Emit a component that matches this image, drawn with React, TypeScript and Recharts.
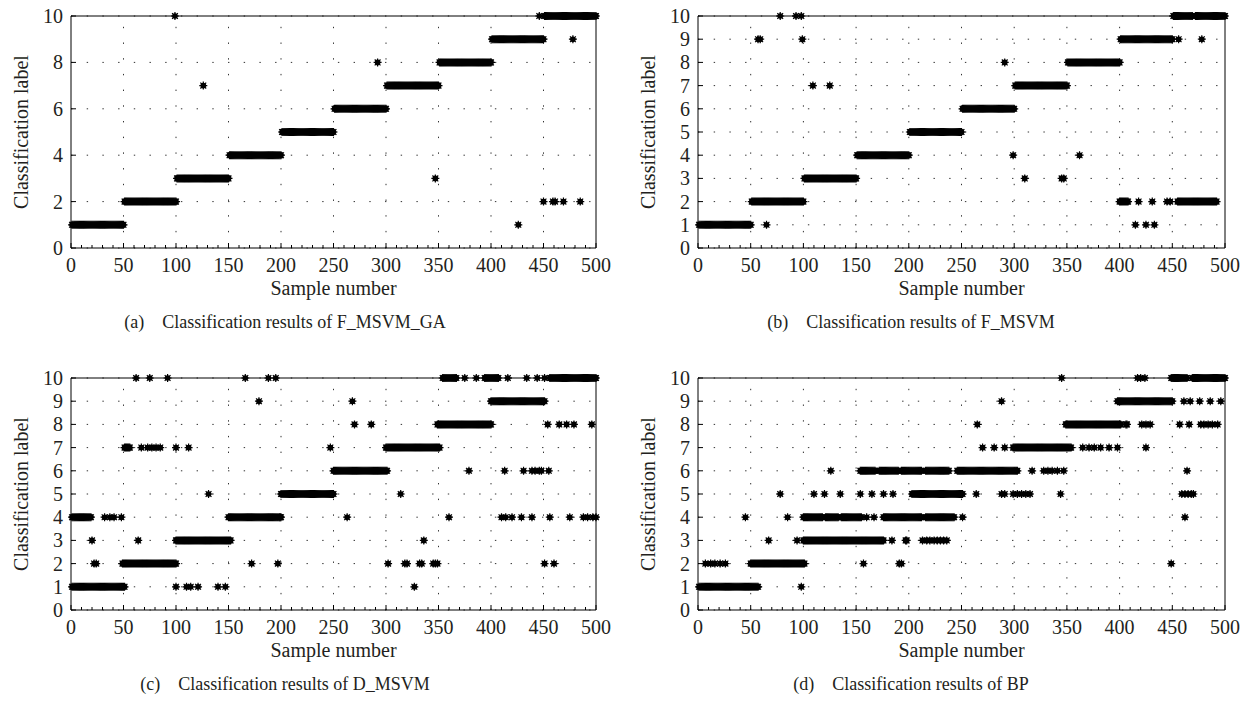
import React from 'react';
import { ScatterChart, Scatter, XAxis, YAxis, CartesianGrid, ReferenceLine } from 'recharts';

// runs are [first sample, last sample, predicted label]; extra points are [sample, label]
type Run = [number, number, number];
type Pt = [number, number];

const xTicks = [0, 50, 100, 150, 200, 250, 300, 350, 400, 450, 500];
const xMinorTicks = [
  0, 10, 20, 30, 40, 50, 60, 70, 80, 90, 100, 110, 120, 130, 140, 150, 160, 170, 180, 190, 200,
  210, 220, 230, 240, 250, 260, 270, 280, 290, 300, 310, 320, 330, 340, 350, 360, 370, 380, 390, 400,
  410, 420, 430, 440, 450, 460, 470, 480, 490, 500,
];
const xGrid = [50, 100, 150, 200, 250, 300, 350, 400, 450];
const yTicksEven = [0, 2, 4, 6, 8, 10];
const yTicksAll = [0, 1, 2, 3, 4, 5, 6, 7, 8, 9, 10];

// (a) F_MSVM_GA
const runsA: Run[] = [
  [1, 50, 1], [51, 100, 2], [101, 150, 3], [151, 200, 4], [201, 250, 5],
  [251, 300, 6], [301, 350, 7], [351, 400, 8], [401, 450, 9], [451, 500, 10],
];
const extraA: Pt[] = [
  [99, 10], [126, 7], [292, 8], [347, 3], [426, 1], [446, 10],
  [450, 2], [459, 2], [461, 2], [469, 2], [478, 9], [485, 2],
];

// (b) F_MSVM
const runsB: Run[] = [
  [1, 50, 1], [51, 100, 2], [101, 150, 3], [151, 200, 4], [201, 250, 5],
  [251, 300, 6], [301, 350, 7], [351, 400, 8], [401, 450, 9], [451, 469, 10], [472, 500, 10],
  [400, 408, 2], [455, 492, 2],
];
const extraB: Pt[] = [
  [57, 9], [59, 9], [65, 1], [78, 10], [93, 10], [98, 10], [99, 9], [109, 7], [125, 7],
  [291, 8], [299, 4], [310, 3], [345, 3], [347, 3], [362, 4],
  [418, 2], [431, 2], [445, 2], [448, 2], [415, 1], [425, 1], [433, 1], [456, 9], [478, 9],
];

// (c) D_MSVM
const runsC: Run[] = [
  [1, 51, 1], [1, 19, 4], [49, 100, 2], [51, 56, 7], [100, 152, 3], [150, 200, 4],
  [200, 250, 5], [250, 301, 6], [300, 351, 7], [349, 400, 8], [400, 451, 9],
  [354, 367, 10], [394, 407, 10], [456, 500, 10],
];
const extraC: Pt[] = [
  [62, 10], [75, 10], [92, 10], [166, 10], [188, 10], [195, 10], [375, 10], [386, 10], [416, 10], [434, 10], [444, 10], [451, 10],
  [179, 9], [268, 9],
  [270, 8], [286, 8], [454, 8], [465, 8], [472, 8], [479, 8], [496, 8],
  [67, 7], [73, 7], [77, 7], [81, 7], [85, 7], [100, 7], [112, 7], [247, 7],
  [379, 6], [413, 6], [431, 6], [439, 6], [442, 6], [446, 6], [448, 6], [455, 6],
  [131, 5], [314, 5],
  [32, 4], [37, 4], [41, 4], [48, 4], [199, 4], [263, 4], [360, 4], [410, 4], [414, 4], [420, 4],
  [429, 4], [439, 4], [456, 4], [475, 4], [488, 4], [492, 4], [497, 4], [500, 4],
  [20, 3], [64, 3], [336, 3],
  [22, 2], [24, 2], [172, 2], [197, 2], [302, 2], [318, 2], [320, 2], [332, 2], [334, 2],
  [345, 2], [347, 2], [349, 2], [451, 2], [460, 2],
  [100, 1], [110, 1], [114, 1], [121, 1], [140, 1], [147, 1], [327, 1],
];

// (d) BP
const runsD: Run[] = [
  [1, 57, 1], [50, 101, 2], [100, 176, 3],
  [100, 118, 4], [121, 133, 4], [136, 155, 4], [176, 212, 4], [216, 243, 4],
  [154, 168, 6], [172, 190, 6], [193, 212, 6], [216, 238, 6], [246, 303, 6],
  [203, 251, 5], [299, 354, 7], [349, 401, 8], [398, 450, 9], [449, 464, 10], [469, 500, 10],
];
const extraD: Pt[] = [
  [345, 10], [417, 10], [420, 10], [424, 10],
  [288, 9], [461, 9], [467, 9], [476, 9], [486, 9], [496, 9],
  [265, 8], [406, 8], [407, 8], [421, 8], [425, 8], [429, 8], [457, 8], [466, 8], [477, 8], [480, 8], [484, 8], [488, 8], [493, 8],
  [270, 7], [281, 7], [291, 7], [365, 7], [371, 7], [376, 7], [382, 7], [390, 7], [398, 7], [425, 7],
  [126, 6], [317, 6], [328, 6], [332, 6], [336, 6], [341, 6], [347, 6], [464, 6],
  [78, 5], [110, 5], [120, 5], [135, 5], [154, 5], [165, 5], [176, 5], [185, 5], [264, 5], [288, 5], [291, 5],
  [299, 5], [303, 5], [307, 5], [311, 5], [315, 5], [344, 5], [459, 5], [462, 5], [465, 5], [468, 5], [470, 5],
  [45, 4], [85, 4], [160, 4], [167, 4], [251, 4], [462, 4],
  [67, 3], [94, 3], [184, 3], [197, 3], [198, 3], [213, 3], [217, 3], [220, 3], [224, 3], [227, 3], [230, 3], [233, 3], [236, 3],
  [7, 2], [12, 2], [16, 2], [21, 2], [26, 2], [157, 2], [191, 2], [193, 2], [449, 2],
  [98, 1],
];

const FONT = "'Liberation Serif', 'DejaVu Serif', serif";
const INK = '#231f20';
const DOTS = '1.4 14.3';

function toPoints(runs: Run[], extra: Pt[]) {
  const pts: { x: number; y: number }[] = [];
  runs.forEach(([a, b, label]) => {
    for (let i = a; i <= b; i++) pts.push({ x: i, y: label });
  });
  extra.forEach(([x, y]) => pts.push({ x, y }));
  return pts;
}

// asterisk marker, as in the MATLAB '*' style
const Star = (props: any) => {
  const { cx, cy } = props;
  const r = 4;
  const d = 2.9;
  return (
    <g>
      <circle cx={cx} cy={cy} r={2.8} fill="#000" />
      <path
        d={`M${cx - r},${cy}L${cx + r},${cy}M${cx},${cy - r}L${cx},${cy + r}M${cx - d},${cy - d}L${cx + d},${cy + d}M${cx - d},${cy + d}L${cx + d},${cy - d}`}
        stroke="#000"
        strokeWidth={1.2}
      />
    </g>
  );
};

const BottomTick = (props: any) => {
  const { x, y, payload } = props;
  const major = payload.value % 50 === 0;
  return (
    <g>
      <line x1={x} y1={y} x2={x} y2={y - (major ? 5 : 3)} stroke="#000" />
      {major && (
        <text x={x} y={y + 24} textAnchor="middle" fontFamily={FONT} fontSize={20} fill={INK}>
          {payload.value}
        </text>
      )}
    </g>
  );
};

const TopTick = (props: any) => {
  const { x, y, payload } = props;
  const major = payload.value % 50 === 0;
  return <line x1={x} y1={y} x2={x} y2={y + (major ? 5 : 3)} stroke="#000" />;
};

const LeftTick = (props: any) => {
  const { x, y, payload } = props;
  return (
    <g>
      <line x1={x} y1={y} x2={x + 5} y2={y} stroke="#000" />
      <text x={x - 8} y={y} textAnchor="end" dominantBaseline="central" fontFamily={FONT} fontSize={20} fill={INK}>
        {payload.value}
      </text>
    </g>
  );
};

const RightTick = (props: any) => {
  const { x, y } = props;
  return <line x1={x} y1={y} x2={x - 5} y2={y} stroke="#000" />;
};

interface PanelProps {
  left: number;
  top: number;
  width: number;
  axisWidth: number;
  marginRight: number;
  yTicks: number[];
  runs: Run[];
  extra: Pt[];
  caption: string;
  captionX: number;
}

const Panel: React.FC<PanelProps> = ({ left, top, width, axisWidth, marginRight, yTicks, runs, extra, caption, captionX }) => {
  const data = toPoints(runs, extra);
  return (
    <div style={{ position: 'absolute', left, top, width, height: 340 }}>
      <ScatterChart width={width} height={300} margin={{ top: 15, right: marginRight, bottom: 0, left: 0 }}>
        <CartesianGrid vertical={false} stroke="#333" strokeDasharray={DOTS} />
        {xGrid.map((v) => (
          <ReferenceLine key={v} x={v} stroke="#333" strokeDasharray={DOTS} />
        ))}
        <XAxis
          type="number"
          dataKey="x"
          domain={[0, 500]}
          ticks={xMinorTicks}
          interval={0}
          tickSize={0}
          tickMargin={0}
          tickLine={false}
          axisLine={{ stroke: '#000' }}
          tick={<BottomTick />}
          height={52}
          label={{
            content: (p: any) => {
              const vb = p.viewBox;
              return (
                <text x={vb.x + vb.width / 2} y={vb.y + 47} textAnchor="middle" fontFamily={FONT} fontSize={20} fill={INK}>
                  Sample number
                </text>
              );
            },
          }}
        />
        <XAxis
          xAxisId="top"
          orientation="top"
          type="number"
          dataKey="x"
          domain={[0, 500]}
          ticks={xMinorTicks}
          interval={0}
          tickSize={0}
          tickMargin={0}
          tickLine={false}
          axisLine={{ stroke: '#000' }}
          tick={<TopTick />}
          height={1}
        />
        <YAxis
          type="number"
          dataKey="y"
          domain={[0, 10]}
          ticks={yTicks}
          interval={0}
          tickSize={0}
          tickMargin={0}
          tickLine={false}
          axisLine={{ stroke: '#000' }}
          tick={<LeftTick />}
          width={axisWidth}
          label={{
            content: (p: any) => {
              const vb = p.viewBox;
              const cx = vb.x + vb.width - 50;
              const cy = vb.y + vb.height / 2;
              return (
                <text
                  x={cx}
                  y={cy}
                  transform={`rotate(-90 ${cx} ${cy})`}
                  textAnchor="middle"
                  dominantBaseline="central"
                  fontFamily={FONT}
                  fontSize={20}
                  fill={INK}
                >
                  Classification label
                </text>
              );
            },
          }}
        />
        <YAxis
          yAxisId="right"
          orientation="right"
          type="number"
          dataKey="y"
          domain={[0, 10]}
          ticks={yTicks}
          interval={0}
          tickSize={0}
          tickMargin={0}
          tickLine={false}
          axisLine={{ stroke: '#000' }}
          tick={<RightTick />}
          width={1}
        />
        <Scatter data={data} fill="#000" shape={<Star />} isAnimationActive={false} />
      </ScatterChart>
      <div
        style={{
          position: 'absolute',
          left: captionX - 300,
          width: 600,
          top: 312,
          textAlign: 'center',
          fontFamily: FONT,
          fontSize: 18,
          color: INK,
          whiteSpace: 'nowrap',
        }}
      >
        {caption}
      </div>
    </div>
  );
};

export default function App() {
  return (
    <div style={{ position: 'absolute', left: 0, top: 0, width: 1243, height: 712, background: '#fff', overflow: 'hidden' }}>
      <Panel left={0} top={0} width={620} axisWidth={71} marginRight={23} yTicks={yTicksEven} runs={runsA} extra={extraA}
        caption={'(a)\u2003Classification results of F_MSVM_GA'} captionX={285} />
      <Panel left={621} top={0} width={622} axisWidth={77} marginRight={17} yTicks={yTicksAll} runs={runsB} extra={extraB}
        caption={'(b)\u2003Classification results of F_MSVM'} captionX={290} />
      <Panel left={0} top={362} width={620} axisWidth={71} marginRight={23} yTicks={yTicksAll} runs={runsC} extra={extraC}
        caption={'(c)\u2003Classification results of D_MSVM'} captionX={285} />
      <Panel left={621} top={362} width={622} axisWidth={77} marginRight={17} yTicks={yTicksAll} runs={runsD} extra={extraD}
        caption={'(d)\u2003Classification results of BP'} captionX={290} />
    </div>
  );
}
